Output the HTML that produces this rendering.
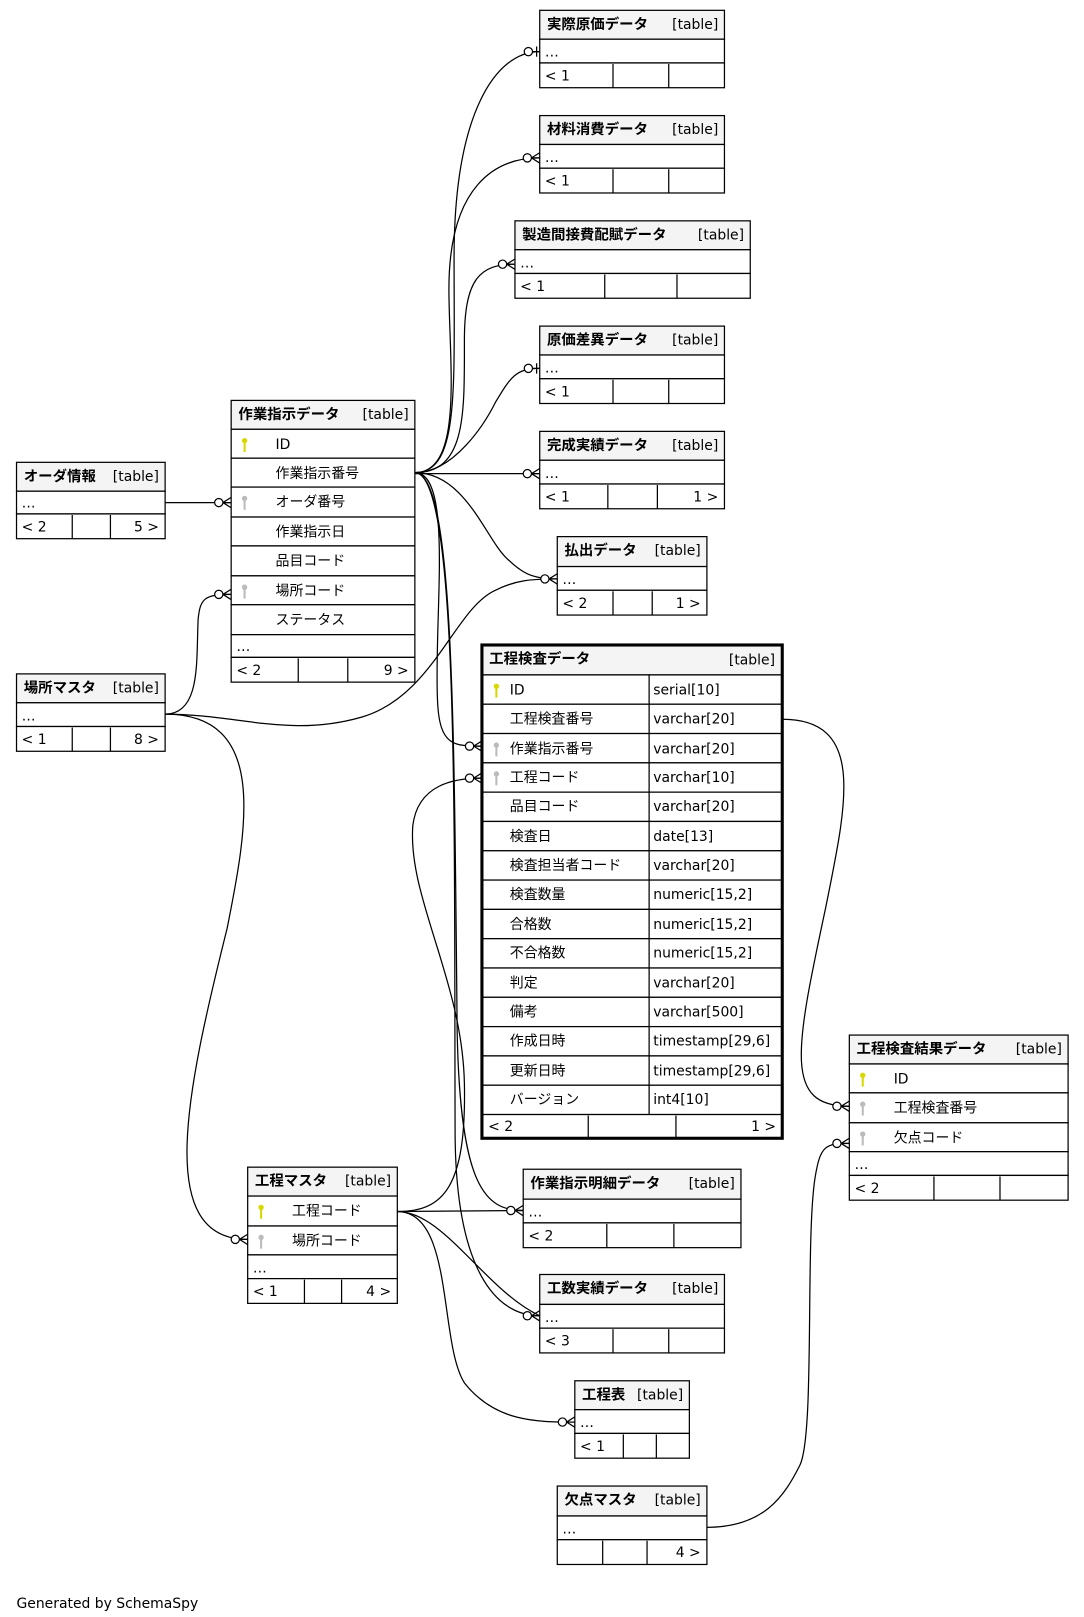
<!DOCTYPE html>
<html><head><meta charset="utf-8"><style>
html,body{margin:0;padding:0;background:#fff;width:1084px;height:1617px;overflow:hidden}
svg{display:block}
text{font-family:"DejaVu Sans","Noto Sans CJK JP",sans-serif;font-size:13.5px;fill:#000}
.b{font-weight:bold;font-size:14px}
.h{fill:#f4f4f4;stroke:#000;stroke-width:1.2}
.r{fill:#fff;stroke:#000;stroke-width:1.2}
.s{stroke:#000;stroke-width:1.2}
.e{fill:none;stroke:#000;stroke-width:1.2}
.c{fill:#fff;stroke:#000;stroke-width:1.2}
</style></head><body>
<svg width="1084" height="1617" viewBox="0 0 1050.4 1566.9" xmlns="http://www.w3.org/2000/svg">
<defs>
<g id="kp"><circle cx="0" cy="-4" r="2.6" fill="#d8d800"/><rect x="-1" y="-3" width="2" height="10" fill="#d8d800"/></g>
<g id="kf"><circle cx="0" cy="-4" r="2.6" fill="#bbb"/><rect x="-1" y="-3" width="2" height="10" fill="#bbb"/></g>
<g id="cf"><path class="e" d="M-8,0 L0,-5 M-8,0 L0,0 M-8,0 L0,5"/><circle class="c" cx="-12" cy="0" r="4"/></g>
<g id="co"><path class="e" d="M-3,-5 L-3,5 M-8,0 L0,0"/><circle class="c" cx="-11" cy="0" r="4"/></g>
</defs>

<!-- edges -->
<path class="e" d="M402,458 C445,458 440,380 440,250 C440,110 480,50 523,50"/>
<path class="e" d="M402,458 C450,458 435,350 435,280 C435,180 480,153 523,153"/>
<path class="e" d="M402,458 C452,458 450,400 450,330 C450,270 465,256 499,256"/>
<path class="e" d="M402,458 C440,458 470,410 480,390 C495,365 500,357 523,357"/>
<path class="e" d="M402,459 L523,459"/>
<path class="e" d="M402,458 C450,458 470,520 490,540 C505,555 515,561 540,561"/>
<path class="e" d="M402,458 C440,458 420,600 424,680 C426,723 440,723 467,723"/>
<path class="e" d="M402,458 C440,458 440,700 443,1000 C446,1150 470,1173 507,1173"/>
<path class="e" d="M402,458 C445,458 440,800 441,1100 C442,1230 480,1275 523,1275"/>
<path class="e" d="M160,487 L224,487"/>
<path class="e" d="M160,692 C195,692 190,640 192,600 C194,580 198,576 224,576"/>
<path class="e" d="M160,692 C230,692 280,715 350,695 C420,675 440,590 480,572 C500,562 515,561 540,561"/>
<path class="e" d="M160,692 C260,692 240,800 220,900 C180,1060 150,1201 240,1201"/>
<path class="e" d="M385,1174 C430,1174 452,1150 450,1050 C448,950 395,870 400,800 C405,760 440,754 467,754"/>
<path class="e" d="M385,1174 L507,1173"/>
<path class="e" d="M385,1174 C430,1174 470,1250 523,1275"/>
<path class="e" d="M385,1174 C440,1174 425,1300 450,1340 C480,1378 520,1378 557,1378"/>
<path class="e" d="M758,697 C840,697 820,780 800,880 C770,1020 760,1072 823,1072"/>
<path class="e" d="M685,1480 C740,1480 760,1450 775,1420 C790,1390 780,1200 790,1140 C795,1110 800,1108 823,1108"/>

<!-- markers -->
<use href="#co" x="523" y="50"/>
<use href="#cf" x="523" y="153"/>
<use href="#cf" x="499" y="256"/>
<use href="#co" x="523" y="357"/>
<use href="#cf" x="523" y="459"/>
<use href="#cf" x="540" y="561"/>
<use href="#cf" x="467" y="723"/>
<use href="#cf" x="467" y="754"/>
<use href="#cf" x="507" y="1173"/>
<use href="#cf" x="523" y="1275"/>
<use href="#cf" x="224" y="487"/>
<use href="#cf" x="224" y="576"/>
<use href="#cf" x="240" y="1201"/>
<use href="#cf" x="557" y="1378"/>
<use href="#cf" x="823" y="1072"/>
<use href="#cf" x="823" y="1108"/>

<!-- simple tables -->
<rect class="h" x="523" y="10" width="179" height="28"/><text class="b" x="530" y="28">実際原価データ</text><text x="696" y="28" text-anchor="end">[table]</text>
<rect class="r" x="523" y="38" width="179" height="23"/><text x="528" y="55">…</text>
<rect class="r" x="523" y="61" width="179" height="24"/><text x="528" y="78">&lt; 1</text><line class="s" x1="594" y1="62" x2="594" y2="85"/><line class="s" x1="648" y1="62" x2="648" y2="85"/>

<rect class="h" x="523" y="112" width="179" height="28"/><text class="b" x="530" y="130">材料消費データ</text><text x="696" y="130" text-anchor="end">[table]</text>
<rect class="r" x="523" y="140" width="179" height="23"/><text x="528" y="157">…</text>
<rect class="r" x="523" y="163" width="179" height="24"/><text x="528" y="180">&lt; 1</text><line class="s" x1="594" y1="164" x2="594" y2="187"/><line class="s" x1="648" y1="164" x2="648" y2="187"/>

<rect class="h" x="499" y="214" width="228" height="28"/><text class="b" x="506" y="232">製造間接費配賦データ</text><text x="721" y="232" text-anchor="end">[table]</text>
<rect class="r" x="499" y="242" width="228" height="23"/><text x="504" y="259">…</text>
<rect class="r" x="499" y="265" width="228" height="24"/><text x="504" y="282">&lt; 1</text><line class="s" x1="586" y1="266" x2="586" y2="289"/><line class="s" x1="656" y1="266" x2="656" y2="289"/>

<rect class="h" x="523" y="316" width="179" height="28"/><text class="b" x="530" y="334">原価差異データ</text><text x="696" y="334" text-anchor="end">[table]</text>
<rect class="r" x="523" y="344" width="179" height="23"/><text x="528" y="361">…</text>
<rect class="r" x="523" y="367" width="179" height="24"/><text x="528" y="384">&lt; 1</text><line class="s" x1="594" y1="368" x2="594" y2="391"/><line class="s" x1="648" y1="368" x2="648" y2="391"/>

<rect class="h" x="523" y="418" width="179" height="28"/><text class="b" x="530" y="436">完成実績データ</text><text x="696" y="436" text-anchor="end">[table]</text>
<rect class="r" x="523" y="446" width="179" height="23"/><text x="528" y="463">…</text>
<rect class="r" x="523" y="469" width="179" height="24"/><text x="528" y="486">&lt; 1</text><text x="696" y="486" text-anchor="end">1 &gt;</text><line class="s" x1="589" y1="470" x2="589" y2="493"/><line class="s" x1="637" y1="470" x2="637" y2="493"/>

<rect class="h" x="540" y="520" width="145" height="29"/><text class="b" x="547" y="538">払出データ</text><text x="679" y="538" text-anchor="end">[table]</text>
<rect class="r" x="540" y="549" width="145" height="23"/><text x="545" y="566">…</text>
<rect class="r" x="540" y="572" width="145" height="24"/><text x="545" y="589">&lt; 2</text><text x="679" y="589" text-anchor="end">1 &gt;</text><line class="s" x1="594" y1="573" x2="594" y2="596"/><line class="s" x1="632" y1="573" x2="632" y2="596"/>

<rect class="h" x="16" y="448" width="144" height="28"/><text class="b" x="23" y="466">オーダ情報</text><text x="154" y="466" text-anchor="end">[table]</text>
<rect class="r" x="16" y="476" width="144" height="22"/><text x="21" y="492">…</text>
<rect class="r" x="16" y="498" width="144" height="24"/><text x="21" y="515">&lt; 2</text><text x="154" y="515" text-anchor="end">5 &gt;</text><line class="s" x1="70" y1="499" x2="70" y2="522"/><line class="s" x1="107" y1="499" x2="107" y2="522"/>

<rect class="h" x="16" y="653" width="144" height="28"/><text class="b" x="23" y="671">場所マスタ</text><text x="154" y="671" text-anchor="end">[table]</text>
<rect class="r" x="16" y="681" width="144" height="23"/><text x="21" y="698">…</text>
<rect class="r" x="16" y="704" width="144" height="24"/><text x="21" y="721">&lt; 1</text><text x="154" y="721" text-anchor="end">8 &gt;</text><line class="s" x1="70" y1="705" x2="70" y2="728"/><line class="s" x1="107" y1="705" x2="107" y2="728"/>

<rect class="h" x="507" y="1133" width="211" height="29"/><text class="b" x="514" y="1151">作業指示明細データ</text><text x="712" y="1151" text-anchor="end">[table]</text>
<rect class="r" x="507" y="1162" width="211" height="23"/><text x="512" y="1179">…</text>
<rect class="r" x="507" y="1185" width="211" height="24"/><text x="512" y="1202">&lt; 2</text><line class="s" x1="588" y1="1186" x2="588" y2="1209"/><line class="s" x1="653" y1="1186" x2="653" y2="1209"/>

<rect class="h" x="523" y="1235" width="179" height="29"/><text class="b" x="530" y="1253">工数実績データ</text><text x="696" y="1253" text-anchor="end">[table]</text>
<rect class="r" x="523" y="1264" width="179" height="23"/><text x="528" y="1281">…</text>
<rect class="r" x="523" y="1287" width="179" height="24"/><text x="528" y="1304">&lt; 3</text><line class="s" x1="594" y1="1288" x2="594" y2="1311"/><line class="s" x1="648" y1="1288" x2="648" y2="1311"/>

<rect class="h" x="557" y="1338" width="111" height="28"/><text class="b" x="564" y="1356">工程表</text><text x="662" y="1356" text-anchor="end">[table]</text>
<rect class="r" x="557" y="1366" width="111" height="23"/><text x="562" y="1383">…</text>
<rect class="r" x="557" y="1389" width="111" height="24"/><text x="562" y="1406">&lt; 1</text><line class="s" x1="604" y1="1390" x2="604" y2="1413"/><line class="s" x1="636" y1="1390" x2="636" y2="1413"/>

<rect class="h" x="540" y="1440" width="145" height="29"/><text class="b" x="547" y="1458">欠点マスタ</text><text x="679" y="1458" text-anchor="end">[table]</text>
<rect class="r" x="540" y="1469" width="145" height="23"/><text x="545" y="1486">…</text>
<rect class="r" x="540" y="1492" width="145" height="24"/><text x="679" y="1509" text-anchor="end">4 &gt;</text><line class="s" x1="584" y1="1493" x2="584" y2="1516"/><line class="s" x1="627" y1="1493" x2="627" y2="1516"/>

<!-- 作業指示データ -->
<rect class="h" x="224" y="388" width="178" height="28"/><text class="b" x="231" y="406">作業指示データ</text><text x="396" y="406" text-anchor="end">[table]</text>
<rect class="r" x="224" y="416" width="178" height="28"/><use href="#kp" x="237" y="431"/><text x="267" y="435">ID</text>
<rect class="r" x="224" y="444" width="178" height="28"/><text x="267" y="463">作業指示番号</text>
<rect class="r" x="224" y="472" width="178" height="29"/><use href="#kf" x="237" y="487"/><text x="267" y="491">オーダ番号</text>
<rect class="r" x="224" y="501" width="178" height="28"/><text x="267" y="520">作業指示日</text>
<rect class="r" x="224" y="529" width="178" height="29"/><text x="267" y="548">品目コード</text>
<rect class="r" x="224" y="558" width="178" height="28"/><use href="#kf" x="237" y="573"/><text x="267" y="577">場所コード</text>
<rect class="r" x="224" y="586" width="178" height="29"/><text x="267" y="605">ステータス</text>
<rect class="r" x="224" y="615" width="178" height="22"/><text x="229" y="631">…</text>
<rect class="r" x="224" y="637" width="178" height="24"/><text x="229" y="654">&lt; 2</text><text x="396" y="654" text-anchor="end">9 &gt;</text><line class="s" x1="289" y1="638" x2="289" y2="661"/><line class="s" x1="337" y1="638" x2="337" y2="661"/>

<!-- 工程マスタ -->
<rect class="h" x="240" y="1131" width="145" height="28"/><text class="b" x="247" y="1149">工程マスタ</text><text x="379" y="1149" text-anchor="end">[table]</text>
<rect class="r" x="240" y="1159" width="145" height="29"/><use href="#kp" x="253" y="1174"/><text x="283" y="1178">工程コード</text>
<rect class="r" x="240" y="1188" width="145" height="28"/><use href="#kf" x="253" y="1203"/><text x="283" y="1207">場所コード</text>
<rect class="r" x="240" y="1216" width="145" height="23"/><text x="245" y="1233">…</text>
<rect class="r" x="240" y="1239" width="145" height="24"/><text x="245" y="1256">&lt; 1</text><text x="379" y="1256" text-anchor="end">4 &gt;</text><line class="s" x1="295" y1="1240" x2="295" y2="1263"/><line class="s" x1="331" y1="1240" x2="331" y2="1263"/>

<!-- 工程検査結果データ -->
<rect class="h" x="823" y="1003" width="212" height="28"/><text class="b" x="830" y="1021">工程検査結果データ</text><text x="1029" y="1021" text-anchor="end">[table]</text>
<rect class="r" x="823" y="1031" width="212" height="28"/><use href="#kp" x="836" y="1046"/><text x="866" y="1050">ID</text>
<rect class="r" x="823" y="1059" width="212" height="29"/><use href="#kf" x="836" y="1074"/><text x="866" y="1078">工程検査番号</text>
<rect class="r" x="823" y="1088" width="212" height="28"/><use href="#kf" x="836" y="1103"/><text x="866" y="1107">欠点コード</text>
<rect class="r" x="823" y="1116" width="212" height="23"/><text x="828" y="1133">…</text>
<rect class="r" x="823" y="1139" width="212" height="24"/><text x="828" y="1156">&lt; 2</text><line class="s" x1="905" y1="1140" x2="905" y2="1163"/><line class="s" x1="969" y1="1140" x2="969" y2="1163"/>

<!-- 工程検査データ -->
<g>
<rect class="h" x="467" y="625" width="291" height="29"/><text class="b" x="474" y="643">工程検査データ</text><text x="751" y="644" text-anchor="end">[table]</text>
<rect class="r" x="467" y="654" width="162" height="28.4"/><rect class="r" x="629" y="654" width="129" height="28.4"/><use href="#kp" x="481" y="669"/><text x="494" y="673">ID</text><text x="633" y="673">serial[10]</text>
<rect class="r" x="467" y="682.4" width="162" height="28.4"/><rect class="r" x="629" y="682.4" width="129" height="28.4"/><text x="494" y="701">工程検査番号</text><text x="633" y="701">varchar[20]</text>
<rect class="r" x="467" y="710.8" width="162" height="28.4"/><rect class="r" x="629" y="710.8" width="129" height="28.4"/><use href="#kf" x="481" y="726"/><text x="494" y="730">作業指示番号</text><text x="633" y="730">varchar[20]</text>
<rect class="r" x="467" y="739.2" width="162" height="28.4"/><rect class="r" x="629" y="739.2" width="129" height="28.4"/><use href="#kf" x="481" y="754"/><text x="494" y="758">工程コード</text><text x="633" y="758">varchar[10]</text>
<rect class="r" x="467" y="767.6" width="162" height="28.4"/><rect class="r" x="629" y="767.6" width="129" height="28.4"/><text x="494" y="786">品目コード</text><text x="633" y="786">varchar[20]</text>
<rect class="r" x="467" y="796" width="162" height="28.4"/><rect class="r" x="629" y="796" width="129" height="28.4"/><text x="494" y="815">検査日</text><text x="633" y="815">date[13]</text>
<rect class="r" x="467" y="824.4" width="162" height="28.4"/><rect class="r" x="629" y="824.4" width="129" height="28.4"/><text x="494" y="843">検査担当者コード</text><text x="633" y="843">varchar[20]</text>
<rect class="r" x="467" y="852.8" width="162" height="28.4"/><rect class="r" x="629" y="852.8" width="129" height="28.4"/><text x="494" y="871">検査数量</text><text x="633" y="871">numeric[15,2]</text>
<rect class="r" x="467" y="881.2" width="162" height="28.4"/><rect class="r" x="629" y="881.2" width="129" height="28.4"/><text x="494" y="900">合格数</text><text x="633" y="900">numeric[15,2]</text>
<rect class="r" x="467" y="909.6" width="162" height="28.4"/><rect class="r" x="629" y="909.6" width="129" height="28.4"/><text x="494" y="928">不合格数</text><text x="633" y="928">numeric[15,2]</text>
<rect class="r" x="467" y="938" width="162" height="28.4"/><rect class="r" x="629" y="938" width="129" height="28.4"/><text x="494" y="957">判定</text><text x="633" y="957">varchar[20]</text>
<rect class="r" x="467" y="966.4" width="162" height="28.4"/><rect class="r" x="629" y="966.4" width="129" height="28.4"/><text x="494" y="985">備考</text><text x="633" y="985">varchar[500]</text>
<rect class="r" x="467" y="994.8" width="162" height="28.4"/><rect class="r" x="629" y="994.8" width="129" height="28.4"/><text x="494" y="1013">作成日時</text><text x="633" y="1013">timestamp[29,6]</text>
<rect class="r" x="467" y="1023.2" width="162" height="28.4"/><rect class="r" x="629" y="1023.2" width="129" height="28.4"/><text x="494" y="1042">更新日時</text><text x="633" y="1042">timestamp[29,6]</text>
<rect class="r" x="467" y="1051.6" width="162" height="28.4"/><rect class="r" x="629" y="1051.6" width="129" height="28.4"/><text x="494" y="1070">バージョン</text><text x="633" y="1070">int4[10]</text>
<rect class="r" x="467" y="1080" width="291" height="23"/><text x="473" y="1096">&lt; 2</text><text x="752" y="1096" text-anchor="end">1 &gt;</text><line class="s" x1="570" y1="1081" x2="570" y2="1103"/><line class="s" x1="655" y1="1081" x2="655" y2="1103"/>
<rect x="467" y="625" width="291" height="478" fill="none" stroke="#000" stroke-width="3"/>
</g>

<text x="16" y="1558" style="font-size:13.5px">Generated by SchemaSpy</text>
</svg>
</body></html>
